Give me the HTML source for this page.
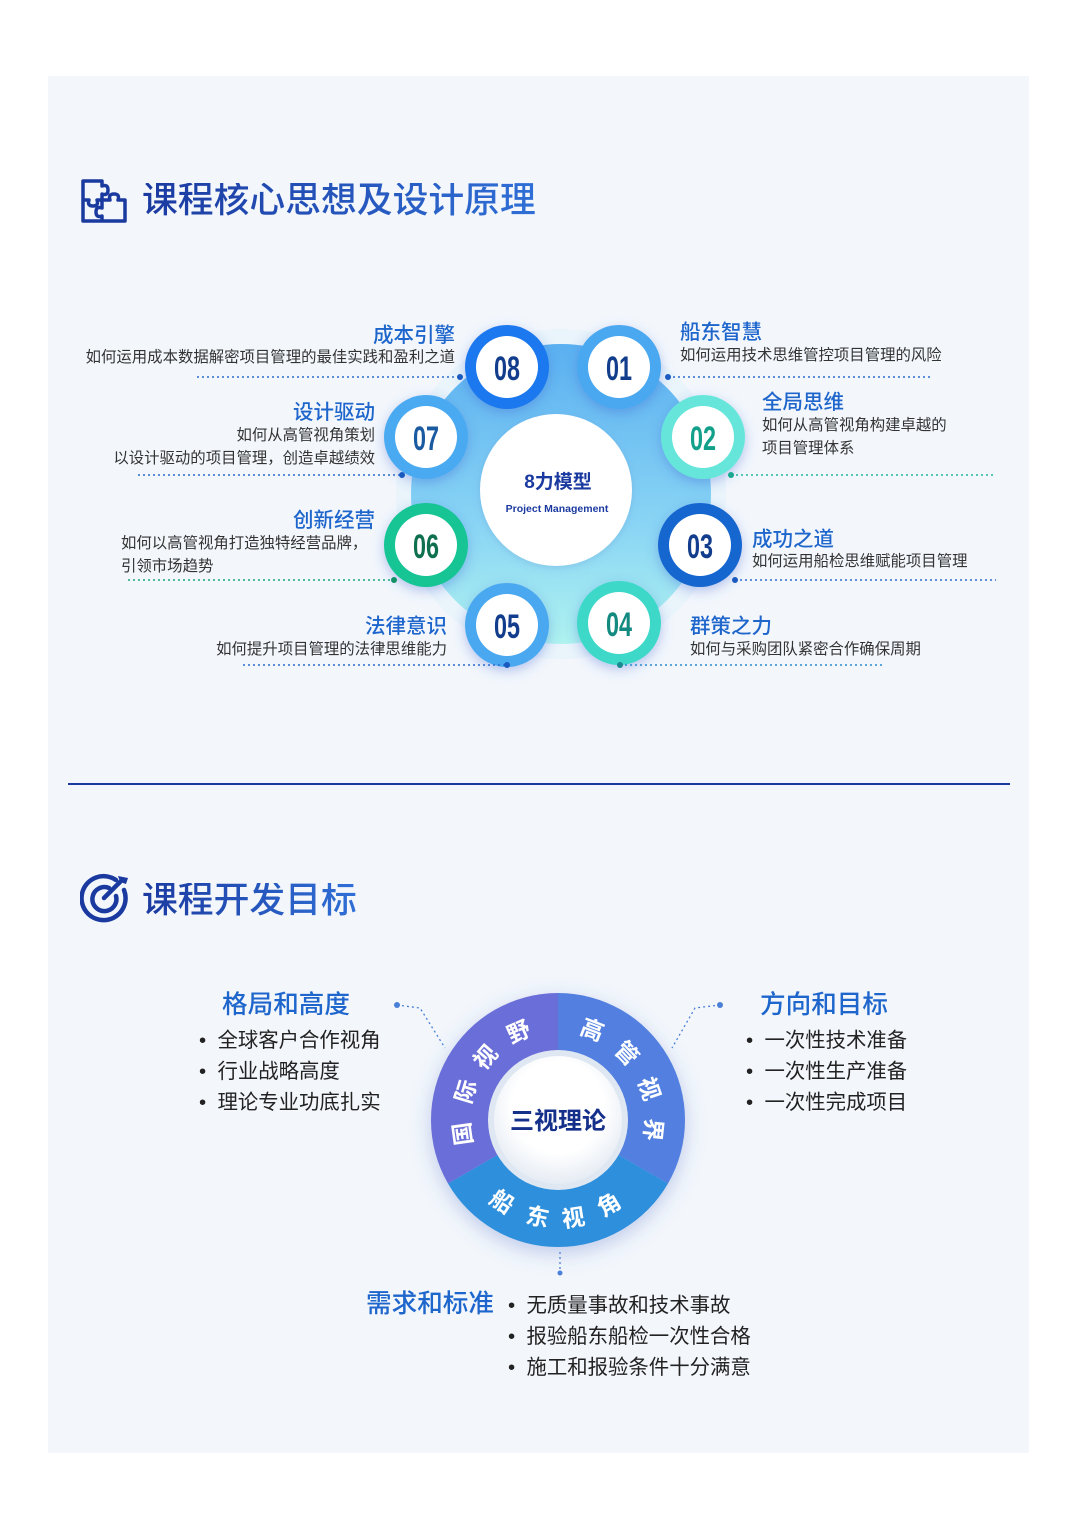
<!DOCTYPE html>
<html><head><meta charset="utf-8">
<style>
*{margin:0;padding:0;box-sizing:border-box}
body{width:1080px;height:1532px;background:#fff;position:relative;overflow:hidden;font-family:"Liberation Sans","Noto Sans CJK SC",sans-serif}
.panel{position:absolute;left:48px;top:76px;width:981px;height:1377px;background:#f3f7fc}
.t{position:absolute;white-space:nowrap;line-height:1}
.h{font-size:20.5px;color:#1e66cc;font-weight:500}
.d{font-size:15.4px;color:#333}
.r{text-align:right}
.big{font-size:35.8px;font-weight:500;background:linear-gradient(90deg,#1b3aa0,#2f6fd6);-webkit-background-clip:text;background-clip:text;color:transparent}
.h2{font-size:25.6px;color:#1e66cc;font-weight:500}
.li{font-size:20.4px;color:#222}
</style></head><body>
<div class="panel"></div>

<svg style="position:absolute;left:80px;top:178px" width="48" height="48" viewBox="0 0 48 48">
<path d="M3 3 H22 V8 Q28 6 28 12 Q28 18 22 16 V22 H30 Q28 16 34 16 Q40 16 38 22 H45 V43 H3 Z" fill="none" stroke="#1b3aa0" stroke-width="3.5" stroke-linejoin="round"/>
<path d="M3 22 H9 Q7 28 13 28 Q19 28 17 22 H22 V30 Q16 28 16 34 Q16 40 22 38 V43" fill="none" stroke="#1b3aa0" stroke-width="3.5" stroke-linejoin="round"/>
</svg>
<div class="t big" style="left:142px;top:183px">课程核心思想及设计原理</div>

<svg style="position:absolute;left:0;top:0" width="1080" height="780">
<defs>
<linearGradient id="bgl" x1="0" y1="0" x2="0" y2="1"><stop offset="0" stop-color="#4aa8ef"/><stop offset="0.6" stop-color="#7fd1f4"/><stop offset="1" stop-color="#a8f2ee"/></linearGradient>
<filter id="sh" x="-50%" y="-50%" width="200%" height="200%"><feDropShadow dx="0" dy="4" stdDeviation="6" flood-color="#3a60d0" flood-opacity="0.35"/></filter>
<filter id="sh2" x="-50%" y="-50%" width="200%" height="200%"><feDropShadow dx="0" dy="2" stdDeviation="4" flood-color="#5a8ad0" flood-opacity="0.3"/></filter>
</defs>
<circle cx="561" cy="494" r="165" fill="#e9f4fb"/>
<circle cx="561" cy="494" r="150" fill="url(#bgl)" opacity="0.9"/>
<circle cx="556" cy="490" r="76" fill="#fff" filter="url(#sh2)"/>
<text x="558" y="488" text-anchor="middle" font-family="Liberation Sans,Noto Sans CJK SC,sans-serif" font-size="19" font-weight="700" fill="#1b3aa0">8力模型</text>
<text x="557" y="512" text-anchor="middle" font-family="Liberation Sans,sans-serif" font-size="10.5" font-weight="700" fill="#1b3aa0">Project Management</text>

<g font-family="Liberation Sans,sans-serif" font-weight="700" font-size="34" text-anchor="middle">
<g filter="url(#sh)"><circle cx="507" cy="367" r="42" fill="#1a78ee"/><circle cx="507" cy="367" r="31" fill="#fff"/></g>
<text x="507" y="380" textLength="26" lengthAdjust="spacingAndGlyphs" fill="#123c8c">08</text>
<g filter="url(#sh)"><circle cx="619" cy="367" r="42" fill="#4aa8f0"/><circle cx="619" cy="367" r="31" fill="#fff"/></g>
<text x="619" y="380" textLength="26" lengthAdjust="spacingAndGlyphs" fill="#123c8c">01</text>
<g filter="url(#sh)"><circle cx="426" cy="437" r="42" fill="#4aaaf2"/><circle cx="426" cy="437" r="31" fill="#fff"/></g>
<text x="426" y="450" textLength="26" lengthAdjust="spacingAndGlyphs" fill="#1a5aa0">07</text>
<g filter="url(#sh)"><circle cx="703" cy="437" r="42" fill="#66e6da"/><circle cx="703" cy="437" r="31" fill="#fff"/></g>
<text x="703" y="450" textLength="26" lengthAdjust="spacingAndGlyphs" fill="#12a08a">02</text>
<g filter="url(#sh)"><circle cx="426" cy="545" r="42" fill="#12c494"/><circle cx="426" cy="545" r="31" fill="#fff"/></g>
<text x="426" y="558" textLength="26" lengthAdjust="spacingAndGlyphs" fill="#0f7050">06</text>
<g filter="url(#sh)"><circle cx="700" cy="545" r="42" fill="#1466d0"/><circle cx="700" cy="545" r="31" fill="#fff"/></g>
<text x="700" y="558" textLength="26" lengthAdjust="spacingAndGlyphs" fill="#123c8c">03</text>
<g filter="url(#sh)"><circle cx="507" cy="625" r="42" fill="#4aa8f0"/><circle cx="507" cy="625" r="31" fill="#fff"/></g>
<text x="507" y="638" textLength="26" lengthAdjust="spacingAndGlyphs" fill="#123c8c">05</text>
<g filter="url(#sh)"><circle cx="619" cy="623" r="42" fill="#3cd8c8"/><circle cx="619" cy="623" r="31" fill="#fff"/></g>
<text x="619" y="636" textLength="26" lengthAdjust="spacingAndGlyphs" fill="#128a80">04</text>
</g>

<g stroke-width="1.5" stroke-dasharray="2 3" fill="none">
<line x1="197" y1="377" x2="460" y2="377" stroke="#2a6ad0"/>
<line x1="138" y1="475" x2="402" y2="475" stroke="#2a6ad0"/>
<line x1="128" y1="580" x2="394" y2="580" stroke="#18a878"/>
<line x1="243" y1="665" x2="507" y2="665" stroke="#2a6ad0"/>
<line x1="668" y1="377" x2="932" y2="377" stroke="#2a6ad0"/>
<line x1="731" y1="475" x2="995" y2="475" stroke="#20b8a0"/>
<line x1="735" y1="580" x2="996" y2="580" stroke="#2a6ad0"/>
<line x1="620" y1="665" x2="884" y2="665" stroke="#2a8ad0"/>
</g>
<g>
<circle cx="460" cy="377" r="3" fill="#1a5ac0"/><circle cx="402" cy="475" r="3" fill="#1a5ac0"/>
<circle cx="394" cy="580" r="3" fill="#129068"/><circle cx="507" cy="665" r="3" fill="#1a5ac0"/>
<circle cx="668" cy="377" r="3" fill="#1a5ac0"/><circle cx="731" cy="475" r="3" fill="#18a890"/>
<circle cx="735" cy="580" r="3" fill="#1a5ac0"/><circle cx="620" cy="665" r="3" fill="#1a8a90"/>
</g>
</svg>

<div class="t h r" style="right:625px;top:326px">成本引擎</div>
<div class="t d r" style="right:625px;top:350px">如何运用成本数据解密项目管理的最佳实践和盈利之道</div>
<div class="t h r" style="right:705px;top:403px">设计驱动</div>
<div class="t d r" style="right:705px;top:428px">如何从高管视角策划</div>
<div class="t d r" style="right:705px;top:451px">以设计驱动的项目管理，创造卓越绩效</div>
<div class="t h r" style="right:705px;top:511px">创新经营</div>
<div class="t d" style="left:121px;top:536px">如何以高管视角打造独特经营品牌，</div>
<div class="t d" style="left:121px;top:559px">引领市场趋势</div>
<div class="t h r" style="right:633px;top:617px">法律意识</div>
<div class="t d r" style="right:633px;top:642px">如何提升项目管理的法律思维能力</div>
<div class="t h" style="left:680px;top:323px">船东智慧</div>
<div class="t d" style="left:680px;top:348px">如何运用技术思维管控项目管理的风险</div>
<div class="t h" style="left:762px;top:393px">全局思维</div>
<div class="t d" style="left:762px;top:418px">如何从高管视角构建卓越的</div>
<div class="t d" style="left:762px;top:441px">项目管理体系</div>
<div class="t h" style="left:752px;top:530px">成功之道</div>
<div class="t d" style="left:752px;top:554px">如何运用船检思维赋能项目管理</div>
<div class="t h" style="left:690px;top:617px">群策之力</div>
<div class="t d" style="left:690px;top:642px">如何与采购团队紧密合作确保周期</div>

<div style="position:absolute;left:68px;top:783px;width:942px;height:2px;background:#1b3aa0"></div>

<svg style="position:absolute;left:80px;top:872px" width="52" height="52" viewBox="0 0 52 52">
<path d="M36 8 A22 22 0 1 0 44 18" fill="none" stroke="#1b3aa0" stroke-width="4.5" stroke-linecap="round"/>
<path d="M29 16 A12 12 0 1 0 36 24" fill="none" stroke="#1b3aa0" stroke-width="4.5" stroke-linecap="round"/>
<line x1="24" y1="26" x2="40" y2="10" stroke="#1b3aa0" stroke-width="4.5" stroke-linecap="round"/>
<path d="M38 4 L40 10 L46 12 L48 6 Z" fill="#1b3aa0"/>
</svg>
<div class="t big" style="left:142px;top:883px">课程开发目标</div>

<svg style="position:absolute;left:0;top:950px" width="1080" height="340">
<defs>
<filter id="rs" x="-30%" y="-30%" width="160%" height="160%"><feDropShadow dx="0" dy="6" stdDeviation="10" flood-color="#4060c0" flood-opacity="0.3"/></filter>
<radialGradient id="wc" cx="0.5" cy="0.4" r="0.6"><stop offset="0.6" stop-color="#fff"/><stop offset="1" stop-color="#e6ecf4"/></radialGradient>
</defs>
<g transform="translate(0,-950)" filter="url(#rs)">
<path d="M558 1120 L558 993 A127 127 0 0 1 668 1183.5 Z" fill="#5380e0"/>
<path d="M558 1120 L668 1183.5 A127 127 0 0 1 448 1183.5 Z" fill="#2f8fdc"/>
<path d="M558 1120 L448 1183.5 A127 127 0 0 1 558 993 Z" fill="#6a6ed8"/>
</g>
<g transform="translate(0,-950)">
<circle cx="558" cy="1120" r="70" fill="#dfe8f2"/>
<circle cx="558" cy="1120" r="64" fill="url(#wc)"/>
<text x="558" y="1129" text-anchor="middle" font-family="Liberation Sans,Noto Sans CJK SC,sans-serif" font-size="24" font-weight="700" fill="#15308a">三视理论</text>
<g font-family="Noto Sans CJK SC,sans-serif" font-size="23" font-weight="700" fill="#fff" text-anchor="middle" dominant-baseline="central">
<text transform="translate(461,1134) rotate(262)">国</text>
<text transform="translate(464,1091) rotate(287)">际</text>
<text transform="translate(484,1056) rotate(311)">视</text>
<text transform="translate(518,1030) rotate(336)">野</text>
<text transform="translate(593,1028) rotate(21)">高</text>
<text transform="translate(628,1052) rotate(46)">管</text>
<text transform="translate(651,1088) rotate(71)">视</text>
<text transform="translate(655,1130) rotate(96)">界</text>
<text transform="translate(503,1200) rotate(34)">船</text>
<text transform="translate(538,1215) rotate(12)">东</text>
<text transform="translate(573,1216) rotate(-9)">视</text>
<text transform="translate(608,1203) rotate(-31)">角</text>
</g>
<g stroke="#4a80d8" stroke-width="1.3" stroke-dasharray="2 3" fill="none">
<polyline points="397,1005 420,1008 445,1048"/>
<polyline points="720,1005 695,1008 672,1048"/>
<line x1="560" y1="1252" x2="560" y2="1272"/>
</g>
<circle cx="397" cy="1005" r="3" fill="#4a80d8"/>
<circle cx="720" cy="1005" r="3" fill="#4a80d8"/>
<circle cx="560" cy="1273" r="2.5" fill="#4a80d8"/>
</g>
</svg>

<div class="t h2" style="left:222px;top:993px">格局和高度</div>
<div class="t li" style="left:199px;top:1031px">•&nbsp; 全球客户合作视角</div>
<div class="t li" style="left:199px;top:1062px">•&nbsp; 行业战略高度</div>
<div class="t li" style="left:199px;top:1093px">•&nbsp; 理论专业功底扎实</div>

<div class="t h2" style="left:760px;top:993px">方向和目标</div>
<div class="t li" style="left:746px;top:1031px">•&nbsp; 一次性技术准备</div>
<div class="t li" style="left:746px;top:1062px">•&nbsp; 一次性生产准备</div>
<div class="t li" style="left:746px;top:1093px">•&nbsp; 一次性完成项目</div>

<div class="t h2" style="left:366px;top:1292px">需求和标准</div>
<div class="t li" style="left:508px;top:1296px">•&nbsp; 无质量事故和技术事故</div>
<div class="t li" style="left:508px;top:1327px">•&nbsp; 报验船东船检一次性合格</div>
<div class="t li" style="left:508px;top:1358px">•&nbsp; 施工和报验条件十分满意</div>
</body></html>
